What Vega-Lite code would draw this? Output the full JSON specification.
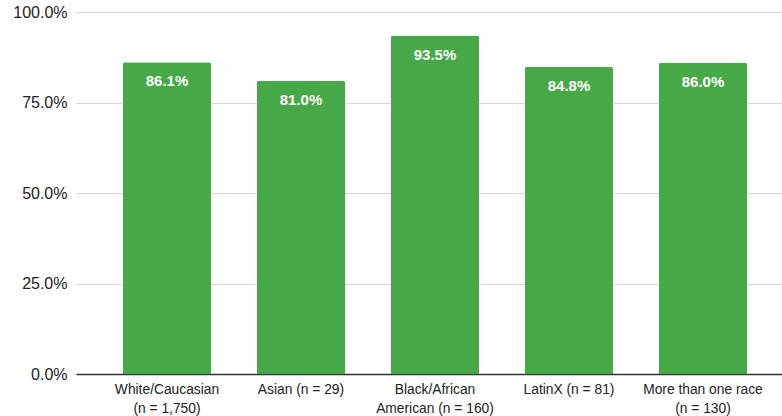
{
  "$schema": "https://vega.github.io/schema/vega-lite/v6.json",
  "autosize": "none",
  "width": 706,
  "height": 362,
  "padding": {"left": 76, "top": 12, "right": 0, "bottom": 42},
  "background": "white",
  "config": {
    "view": {"stroke": null},
    "font": "Liberation Sans"
  },
  "data": {
    "values": [
      {"group": "White/Caucasian|(n = 1,750)", "value": 0.861},
      {"group": "Asian (n = 29)", "value": 0.810},
      {"group": "Black/African|American (n = 160)", "value": 0.935},
      {"group": "LatinX (n = 81)", "value": 0.848},
      {"group": "More than one race|(n = 130)", "value": 0.860}
    ]
  },
  "encoding": {
    "x": {
      "field": "group",
      "type": "nominal",
      "sort": null,
      "scale": {"paddingInner": 0.343, "paddingOuter": 0.306, "align": 0.573},
      "axis": {
        "title": null,
        "labelAngle": 0,
        "labelExpr": "split(datum.label, '|')",
        "labelFont": "Liberation Sans",
        "labelFontSize": 13.8,
        "labelColor": "#222222",
        "labelLineHeight": 19,
        "labelPadding": 8,
        "labelBaseline": "top",
        "ticks": false,
        "domainColor": "#333333",
        "domainWidth": 1.3,
        "labelLimit": 200
      }
    },
    "y": {
      "field": "value",
      "type": "quantitative",
      "scale": {"domain": [0, 1], "nice": false},
      "axis": {
        "title": null,
        "values": [0, 0.25, 0.5, 0.75, 1],
        "format": ".1%",
        "labelFont": "Liberation Sans",
        "labelFontSize": 16,
        "labelColor": "#222222",
        "labelPadding": 9,
        "ticks": false,
        "domain": false,
        "gridColor": "#d6d6d6",
        "gridWidth": 1
      }
    }
  },
  "layer": [
    {
      "mark": {"type": "bar", "color": "#46a846", "cornerRadiusTopLeft": 2, "cornerRadiusTopRight": 2}
    },
    {
      "mark": {"type": "text", "color": "white", "fontWeight": "bold", "fontSize": 15, "font": "Liberation Sans", "baseline": "middle", "dy": 19},
      "encoding": {
        "text": {"field": "value", "type": "quantitative", "format": ".1%"}
      }
    }
  ]
}
